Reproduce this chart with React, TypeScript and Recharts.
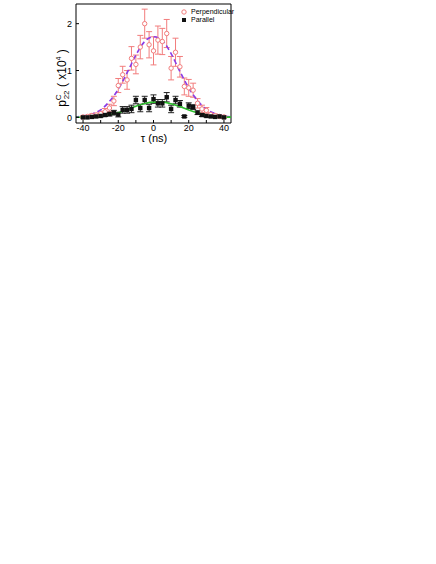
import { ComposedChart, Line, Scatter, ErrorBar, XAxis, YAxis, ReferenceLine } from 'recharts';

// measured delay (ns) of the data points
const tau = [
  -40, -37.5, -35, -32.5, -30, -27.5, -25, -22.5, -20, -17.5, -15, -12.5, -10, -7.5, -5, -2.5,
  0, 2.5, 5, 7.5, 10, 12.5, 15, 17.5, 20, 22.5, 25, 27.5, 30, 32.5, 35, 37.5, 40,
];
const perpVals = [
  0.01, 0.02, 0.04, 0.05, 0.08, 0.12, 0.2, 0.35, 0.68, 0.91, 0.8, 1.26, 1.13, 1.5, 2.0, 1.55,
  1.42, 1.65, 1.62, 1.79, 1.05, 1.39, 1.08, 0.66, 0.63, 0.58, 0.3, 0.18, 0.15, 0.06, 0.04, 0.02, 0.01,
];
const perpErr = [
  0.02, 0.02, 0.03, 0.04, 0.05, 0.07, 0.08, 0.1, 0.15, 0.18, 0.2, 0.25, 0.2, 0.25, 0.31, 0.28,
  0.3, 0.3, 0.28, 0.3, 0.25, 0.3, 0.22, 0.18, 0.18, 0.15, 0.1, 0.08, 0.06, 0.04, 0.03, 0.02, 0.02,
];
const paraVals = [
  0, 0, 0.01, 0.02, 0.03, 0.05, 0.07, 0.1, 0.06, 0.16, 0.16, 0.18, 0.37, 0.2, 0.37, 0.2,
  0.39, 0.3, 0.3, 0.43, 0.18, 0.37, 0.29, 0.02, 0.25, 0.22, 0.1, 0.05, 0.03, 0.02, 0.01, 0.02, 0,
];
const paraErr = [
  0.01, 0.01, 0.01, 0.02, 0.02, 0.03, 0.04, 0.05, 0.05, 0.07, 0.07, 0.08, 0.08, 0.08, 0.08, 0.08,
  0.09, 0.08, 0.08, 0.1, 0.08, 0.08, 0.07, 0.02, 0.06, 0.05, 0.04, 0.03, 0.02, 0.02, 0.01, 0.01, 0.01,
];

// fitted curves
const fitTau = [-45, -40, -35, -30, -25, -20, -15, -10, -5, 0, 5, 10, 15, 20, 25, 30, 35, 40, 45];
const perpFit = [0.01, 0.03, 0.07, 0.16, 0.34, 0.6, 0.95, 1.33, 1.62, 1.72, 1.64, 1.36, 0.98, 0.63, 0.36, 0.17, 0.08, 0.03, 0.01];
const paraFit = [0.002, 0.004, 0.01, 0.025, 0.055, 0.1, 0.165, 0.235, 0.295, 0.325, 0.325, 0.29, 0.23, 0.16, 0.1, 0.05, 0.025, 0.01, 0.004];

const xTicks = [-40, -30, -20, -10, 0, 10, 20, 30, 40];
const yTicks = [0, 1, 2];
const xDomain: [number, number] = [-44, 44];
const yDomain: [number, number] = [-0.12, 2.42];

const perpData = tau.map((t, i) => ({ t, v: perpVals[i], err: perpErr[i] }));
const paraData = tau.map((t, i) => ({ t, v: paraVals[i], err: paraErr[i] }));
const perpFitData = fitTau.map((t, i) => ({ t, v: perpFit[i] }));
const paraFitData = fitTau.map((t, i) => ({ t, v: paraFit[i] }));

const font = 'Arial, "Liberation Sans", sans-serif';
const tickStyle = { fontSize: 9, fill: '#000', fontFamily: font };
const PINK = '#f27d7d';

const OpenCircle = (p: any) => (
  <circle cx={p.cx} cy={p.cy} r={2.2} fill='#fff' stroke={PINK} strokeWidth={1} />
);
const FilledSquare = (p: any) => (
  <rect x={p.cx - 2.2} y={p.cy - 2.2} width={4.4} height={4.4} fill='#111' />
);

const YLabel = () => (
  <text
    x={66}
    y={78}
    transform='rotate(-90, 66, 78)'
    textAnchor='middle'
    fontFamily={font}
    fontSize={12}
    fill='#000'
  >
    p
    <tspan fontSize={8} dy={-5}>C</tspan>
    <tspan fontSize={8} dx={-5} dy={8}>22</tspan>
    <tspan fontSize={12} dy={-3}>{'  ( x10'}</tspan>
    <tspan fontSize={7} dy={-5}>4</tspan>
    <tspan fontSize={12} dy={5}>{' )'}</tspan>
  </text>
);

const XLabel = () => (
  <text x={154} y={142} textAnchor='middle' fontFamily={font} fontSize={11} fill='#000'>
    τ (ns)
  </text>
);

export default function App() {
  return (
    <div style={{ position: 'absolute', left: 0, top: 0, width: 436, height: 564, background: '#fff' }}>
      <ComposedChart
        width={245}
        height={150}
        margin={{ top: 4, right: 14, bottom: 0, left: 0 }}
      >
        <XAxis
          dataKey='t'
          type='number'
          domain={xDomain}
          ticks={xTicks}
          tickFormatter={(v) => (v % 20 === 0 ? String(v) : '')}
          height={27}
          tickSize={-3}
          tickMargin={5}
          tick={tickStyle}
          stroke='#000'
          allowDataOverflow
          label={<XLabel />}
        />
        <YAxis
          type='number'
          domain={yDomain}
          ticks={yTicks}
          width={76}
          tickSize={-3}
          tickMargin={7}
          tick={tickStyle}
          stroke='#000'
          allowDataOverflow
          label={<YLabel />}
        />
        {/* frame: top and right edges */}
        <ReferenceLine y={yDomain[1]} stroke='#000' strokeWidth={1} />
        <ReferenceLine x={xDomain[1]} stroke='#000' strokeWidth={1} />
        <Scatter data={perpData} dataKey='v' shape={OpenCircle} isAnimationActive={false}>
          <ErrorBar dataKey='err' direction='y' width={3} stroke={PINK} strokeWidth={1} />
        </Scatter>
        <Scatter data={paraData} dataKey='v' shape={FilledSquare} isAnimationActive={false}>
          <ErrorBar dataKey='err' direction='y' width={3} stroke='#222' strokeWidth={1} />
        </Scatter>
        <Line
          data={perpFitData}
          dataKey='v'
          type='monotone'
          stroke='#8a3be8'
          strokeWidth={1.6}
          strokeDasharray='5 3'
          dot={false}
          isAnimationActive={false}
        />
        <Line
          data={paraFitData}
          dataKey='v'
          type='monotone'
          stroke='#2cbf2c'
          strokeWidth={1.6}
          dot={false}
          isAnimationActive={false}
        />
      </ComposedChart>
      <div
        style={{
          position: 'absolute',
          left: 181,
          top: 8,
          fontFamily: font,
          fontSize: 7,
          lineHeight: '8px',
          color: '#000',
        }}
      >
        <div style={{ display: 'flex', alignItems: 'center', gap: 4 }}>
          <svg width={6} height={6}>
            <circle cx={3} cy={3} r={2.2} fill='#fff' stroke={PINK} strokeWidth={1} />
          </svg>
          <span>Perpendicular</span>
        </div>
        <div style={{ display: 'flex', alignItems: 'center', gap: 4 }}>
          <svg width={6} height={6}>
            <rect x={1} y={1} width={4} height={4} fill='#111' />
          </svg>
          <span>Parallel</span>
        </div>
      </div>
    </div>
  );
}
